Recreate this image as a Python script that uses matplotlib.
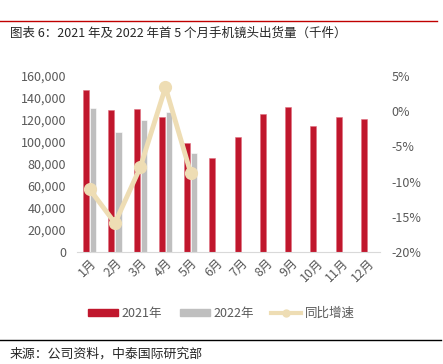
import numpy as np
import matplotlib.pyplot as plt
from matplotlib.lines import Line2D
from matplotlib.patches import Patch
from matplotlib.ticker import FuncFormatter

plt.rcParams['font.family'] = ['Noto Sans CJK SC', 'DejaVu Sans']

months = ['1月', '2月', '3月', '4月', '5月', '6月', '7月', '8月', '9月', '10月', '11月', '12月']
ship_2021 = [147300, 129100, 130000, 123000, 98800, 85200, 104300, 125200, 131800, 114500, 123000, 120600]
ship_2022 = [130900, 108800, 119700, 127500, 90300]
yoy = [-11.1, -15.9, -8.0, 3.4, -8.8]

red = '#C0172D'
grey = '#BFBFBF'
beige = '#EEDDB4'
txt = '#595959'

fig = plt.figure(figsize=(4.43, 3.64), dpi=100)
ax = fig.add_axes([0.174, 0.308, 0.684, 0.483])

x = np.arange(len(months))
w = 0.24
ax.bar(x - 0.14, ship_2021, w, color=red, edgecolor='#E07080', linewidth=0.4, zorder=2)
ax.bar(x[:len(ship_2022)] + 0.14, ship_2022, w, color=grey, edgecolor='white', linewidth=0.4, zorder=2)
ax.set_ylim(0, 160000)
ax.set_yticks(np.arange(0, 160001, 20000))
ax.yaxis.set_major_formatter(FuncFormatter(lambda v, p: f'{int(v):,}'))
ax.set_xlim(-0.5, 11.5)
ax.set_xticks(x)
ax.set_xticklabels(months, rotation=45, ha='right', rotation_mode='anchor')
for s in ['top', 'right', 'left']:
    ax.spines[s].set_visible(False)
ax.spines['bottom'].set_color('#D9D9D9')
ax.tick_params(axis='both', length=0, colors=txt, labelsize=9)
ax.tick_params(axis='y', pad=8)

ax2 = ax.twinx()
ax2.plot(x[:len(yoy)], yoy, color=beige, lw=3.5, marker='o', ms=8.5, zorder=3)
ax2.set_ylim(-20, 5)
ax2.set_yticks(np.arange(-20, 6, 5))
ax2.yaxis.set_major_formatter(FuncFormatter(lambda v, p: f'{int(v)}%'))
for s in ['top', 'right', 'left', 'bottom']:
    ax2.spines[s].set_visible(False)
ax2.tick_params(axis='y', length=0, colors=txt, labelsize=9, pad=8)

handles = [Patch(color=red), Patch(color=grey),
           Line2D([], [], color=beige, lw=3, marker='o', ms=5)]
fig.legend(handles, ['2021年', '2022年', '同比增速'], loc='center',
           bbox_to_anchor=(0.5, 0.14), ncol=3, frameon=False, fontsize=9,
           labelcolor=txt, handlelength=2.4, handleheight=0.5, columnspacing=1.4,
           handletextpad=0.3)

fig.add_artist(Line2D([0, 0.987], [0.942, 0.942], color='#C00000', lw=1.0))
fig.text(0.022, 0.908, '图表 6：2021 年及 2022 年首 5 个月手机镜头出货量（千件）',
         fontsize=9, color='#262626', va='center')
fig.add_artist(Line2D([0, 0.995], [0.066, 0.066], color='black', lw=1.0))
fig.text(0.022, 0.027, '来源：公司资料，中泰国际研究部', fontsize=9.3, color='#262626', va='center')

fig.savefig('out.png', dpi=100)
